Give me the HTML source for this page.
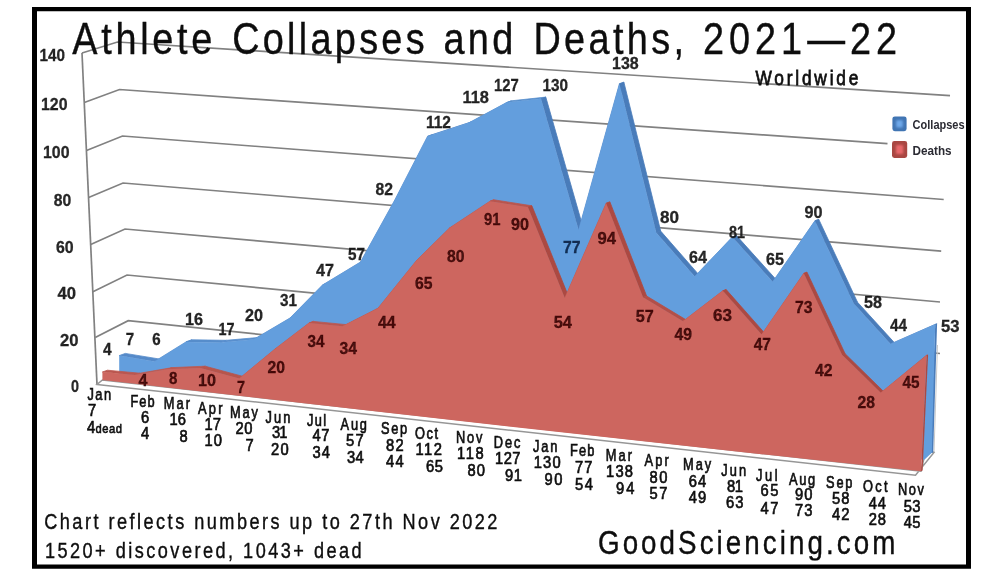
<!DOCTYPE html>
<html lang="en"><head><meta charset="utf-8"><title>Athlete Collapses and Deaths, 2021—22</title>
<style>html,body{margin:0;padding:0;background:#fff}body{width:1000px;height:575px;overflow:hidden;font-family:"Liberation Sans",sans-serif}svg{display:block}</style></head>
<body>
<svg width="1000" height="575" viewBox="0 0 1000 575">
<defs><filter id="b4" x="-50%" y="-50%" width="200%" height="200%"><feGaussianBlur stdDeviation="1.3"/></filter><filter id="b0" x="-2%" y="-10%" width="104%" height="120%"><feGaussianBlur stdDeviation="0.25"/></filter><filter id="b1" x="-5%" y="-5%" width="110%" height="110%"><feGaussianBlur stdDeviation="0.45"/></filter><filter id="b3" x="-5%" y="-5%" width="110%" height="110%"><feGaussianBlur stdDeviation="0.6"/></filter><filter id="b2" x="-20%" y="-20%" width="140%" height="140%"><feGaussianBlur stdDeviation="0.5"/></filter></defs>
<rect width="1000" height="575" fill="#fff"/>
<path d="M32,7H971V568.8H32Z M37,11.2V564.4H966V11.2Z" fill="#000" fill-rule="evenodd"/>
<g fill="none" stroke="#818181" stroke-width="1.7" filter="url(#b3)">
<path d="M82,53 L97,384.4"/>
<path d="M82,53 L117.5,42 L950,95.6"/>
<path d="M84.3,102.5 L119.5,89.5 L887.5,143.7"/>
<path d="M86.5,150.5 L122.5,136 L943.7,199.5"/>
<path d="M88.6,197.5 L123,183 L941.2,251.2"/>
<path d="M90.7,244.5 L125,229 L940,302"/>
<path d="M92.9,291.7 L127,275 L940,353.5"/>
<path d="M95.2,337.5 L128.2,320.7 L300,338.5"/>
<path d="M937.5,345 L934,452" stroke="#c9c9c9" stroke-width="1"/>
</g>
<path d="M97,384.4 L915.5,475.3 L934,452.5 L926,450 L921,471.2 L102.4,380 Z" fill="#fff" stroke="#969696" stroke-width="1.5" filter="url(#b1)"/>
<g filter="url(#b1)">
<polygon points="119.2,355.6 154.6,361.4 160.6,359.2 125.3,353.4" fill="#558ac9" stroke="#558ac9" stroke-width="0.8" stroke-linejoin="round"/>
<polygon points="154.6,361.4 186.0,341.9 191.9,339.8 160.6,359.2" fill="#5a90cf" stroke="#5a90cf" stroke-width="0.8" stroke-linejoin="round"/>
<polygon points="186.0,341.9 220.5,342.4 226.3,340.3 191.9,339.8" fill="#578dcb" stroke="#578dcb" stroke-width="0.8" stroke-linejoin="round"/>
<polygon points="220.5,342.4 253.5,339.5 259.2,337.4 226.3,340.3" fill="#588ecd" stroke="#588ecd" stroke-width="0.8" stroke-linejoin="round"/>
<polygon points="253.5,339.5 290.0,318.0 295.6,316.0 259.2,337.4" fill="#5a90cf" stroke="#5a90cf" stroke-width="0.8" stroke-linejoin="round"/>
<polygon points="290.0,318.0 322.5,285.0 328.0,283.0 295.6,316.0" fill="#5a90cf" stroke="#5a90cf" stroke-width="0.8" stroke-linejoin="round"/>
<polygon points="322.5,285.0 360.5,262.0 365.9,260.1 328.0,283.0" fill="#5a90cf" stroke="#5a90cf" stroke-width="0.8" stroke-linejoin="round"/>
<polygon points="360.5,262.0 394.5,200.5 399.8,198.6 365.9,260.1" fill="#5a90cf" stroke="#5a90cf" stroke-width="0.8" stroke-linejoin="round"/>
<polygon points="394.5,200.5 427.5,136.4 432.7,134.5 399.8,198.6" fill="#5a90cf" stroke="#5a90cf" stroke-width="0.8" stroke-linejoin="round"/>
<polygon points="427.5,136.4 468.5,123.0 473.5,121.2 432.7,134.5" fill="#5a90cf" stroke="#5a90cf" stroke-width="0.8" stroke-linejoin="round"/>
<polygon points="468.5,123.0 506.5,102.6 511.4,100.8 473.5,121.2" fill="#5a90cf" stroke="#5a90cf" stroke-width="0.8" stroke-linejoin="round"/>
<polygon points="506.5,102.6 541.0,98.8 545.8,97.1 511.4,100.8" fill="#588fcd" stroke="#588fcd" stroke-width="0.8" stroke-linejoin="round"/>
<polygon points="541.0,98.8 578.6,230.0 583.3,228.3 545.8,97.1" fill="#4a7cba" stroke="#4a7cba" stroke-width="0.8" stroke-linejoin="round"/>
<polygon points="578.6,230.0 619.4,83.8 623.9,82.2 583.3,228.3" fill="#5a90cf" stroke="#5a90cf" stroke-width="0.8" stroke-linejoin="round"/>
<polygon points="619.4,83.8 656.3,232.7 660.7,231.1 623.9,82.2" fill="#4a7cba" stroke="#4a7cba" stroke-width="0.8" stroke-linejoin="round"/>
<polygon points="656.3,232.7 694.7,276.4 699.0,274.9 660.7,231.1" fill="#4a7cba" stroke="#4a7cba" stroke-width="0.8" stroke-linejoin="round"/>
<polygon points="694.7,276.4 732.3,237.1 736.5,235.6 699.0,274.9" fill="#5a90cf" stroke="#5a90cf" stroke-width="0.8" stroke-linejoin="round"/>
<polygon points="732.3,237.1 772.7,281.7 776.7,280.2 736.5,235.6" fill="#4a7cba" stroke="#4a7cba" stroke-width="0.8" stroke-linejoin="round"/>
<polygon points="772.7,281.7 814.9,220.8 818.8,219.4 776.7,280.2" fill="#5a90cf" stroke="#5a90cf" stroke-width="0.8" stroke-linejoin="round"/>
<polygon points="814.9,220.8 853.7,303.6 857.5,302.2 818.8,219.4" fill="#4a7cba" stroke="#4a7cba" stroke-width="0.8" stroke-linejoin="round"/>
<polygon points="853.7,303.6 890.6,343.9 894.3,342.6 857.5,302.2" fill="#4a7cba" stroke="#4a7cba" stroke-width="0.8" stroke-linejoin="round"/>
<polygon points="890.6,343.9 935.2,324.4 936.3,324.0 894.3,342.6" fill="#5a90cf" stroke="#5a90cf" stroke-width="0.8" stroke-linejoin="round"/>
<polygon points="935.2,324.4 937.1,323.1 933.2,452.6 930.0,453.5" fill="#4a7cba"/>
<polygon points="119.2,379.9 119.2,355.6 154.6,361.4 186.0,341.9 220.5,342.4 253.5,339.5 290.0,318.0 322.5,285.0 360.5,262.0 394.5,200.5 427.5,136.4 468.5,123.0 506.5,102.6 541.0,98.8 578.6,230.0 619.4,83.8 656.3,232.7 694.7,276.4 732.3,237.1 772.7,281.7 814.9,220.8 853.7,303.6 890.6,343.9 935.2,324.4 931.8,452.8 924.6,459.6 921.5,459.6" fill="#649edd"/>
</g>
<g filter="url(#b1)">
<polygon points="102.4,372.0 135.0,375.0 139.9,373.2 107.4,370.2" fill="#bb574f" stroke="#bb574f" stroke-width="0.8" stroke-linejoin="round"/>
<polygon points="135.0,375.0 167.5,369.3 172.3,367.6 139.9,373.2" fill="#bf5a52" stroke="#bf5a52" stroke-width="0.8" stroke-linejoin="round"/>
<polygon points="167.5,369.3 200.5,367.9 205.2,366.2 172.3,367.6" fill="#bd5951" stroke="#bd5951" stroke-width="0.8" stroke-linejoin="round"/>
<polygon points="200.5,367.9 239.4,378.4 244.0,376.7 205.2,366.2" fill="#b8544c" stroke="#b8544c" stroke-width="0.8" stroke-linejoin="round"/>
<polygon points="239.4,378.4 275.0,349.0 279.5,347.4 244.0,376.7" fill="#c05b53" stroke="#c05b53" stroke-width="0.8" stroke-linejoin="round"/>
<polygon points="275.0,349.0 309.0,323.0 313.4,321.4 279.5,347.4" fill="#c05b53" stroke="#c05b53" stroke-width="0.8" stroke-linejoin="round"/>
<polygon points="309.0,323.0 342.5,326.3 346.8,324.7 313.4,321.4" fill="#bb574f" stroke="#bb574f" stroke-width="0.8" stroke-linejoin="round"/>
<polygon points="342.5,326.3 378.0,308.2 382.2,306.7 346.8,324.7" fill="#c05b53" stroke="#c05b53" stroke-width="0.8" stroke-linejoin="round"/>
<polygon points="378.0,308.2 416.5,260.5 420.6,259.0 382.2,306.7" fill="#c05b53" stroke="#c05b53" stroke-width="0.8" stroke-linejoin="round"/>
<polygon points="416.5,260.5 449.5,228.0 453.6,226.5 420.6,259.0" fill="#c05b53" stroke="#c05b53" stroke-width="0.8" stroke-linejoin="round"/>
<polygon points="449.5,228.0 490.0,201.2 494.0,199.8 453.6,226.5" fill="#c05b53" stroke="#c05b53" stroke-width="0.8" stroke-linejoin="round"/>
<polygon points="490.0,201.2 528.0,207.2 531.9,205.8 494.0,199.8" fill="#ba564e" stroke="#ba564e" stroke-width="0.8" stroke-linejoin="round"/>
<polygon points="528.0,207.2 564.8,298.0 568.6,296.6 531.9,205.8" fill="#ac4a42" stroke="#ac4a42" stroke-width="0.8" stroke-linejoin="round"/>
<polygon points="564.8,298.0 606.2,203.2 609.9,201.9 568.6,296.6" fill="#c05b53" stroke="#c05b53" stroke-width="0.8" stroke-linejoin="round"/>
<polygon points="606.2,203.2 643.0,297.3 646.6,296.0 609.9,201.9" fill="#ac4a42" stroke="#ac4a42" stroke-width="0.8" stroke-linejoin="round"/>
<polygon points="643.0,297.3 683.0,321.3 686.5,320.1 646.6,296.0" fill="#b35048" stroke="#b35048" stroke-width="0.8" stroke-linejoin="round"/>
<polygon points="683.0,321.3 722.8,290.8 726.2,289.6 686.5,320.1" fill="#c05b53" stroke="#c05b53" stroke-width="0.8" stroke-linejoin="round"/>
<polygon points="722.8,290.8 761.6,334.6 764.9,333.4 726.2,289.6" fill="#ac4a42" stroke="#ac4a42" stroke-width="0.8" stroke-linejoin="round"/>
<polygon points="761.6,334.6 803.8,273.3 807.0,272.2 764.9,333.4" fill="#c05b53" stroke="#c05b53" stroke-width="0.8" stroke-linejoin="round"/>
<polygon points="803.8,273.3 842.0,354.8 845.1,353.7 807.0,272.2" fill="#ac4a42" stroke="#ac4a42" stroke-width="0.8" stroke-linejoin="round"/>
<polygon points="842.0,354.8 880.8,392.8 883.8,391.7 845.1,353.7" fill="#ac4a42" stroke="#ac4a42" stroke-width="0.8" stroke-linejoin="round"/>
<polygon points="880.8,392.8 926.6,355.2 927.5,354.9 883.8,391.7" fill="#c05b53" stroke="#c05b53" stroke-width="0.8" stroke-linejoin="round"/>
<polygon points="926.6,355.2 928.1,354.8 922.6,470.4 921.0,471.2" fill="#ac4a42"/>
<polygon points="102.4,380.0 102.4,372.0 135.0,375.0 167.5,369.3 200.5,367.9 239.4,378.4 275.0,349.0 309.0,323.0 342.5,326.3 378.0,308.2 416.5,260.5 449.5,228.0 490.0,201.2 528.0,207.2 564.8,298.0 606.2,203.2 643.0,297.3 683.0,321.3 722.8,290.8 761.6,334.6 803.8,273.3 842.0,354.8 880.8,392.8 926.6,355.2 921.0,471.2 716.0,449.3 511.0,426.7 306.0,403.6" fill="#cd665e"/>
</g>
<g font-family="'Liberation Sans', sans-serif" filter="url(#b2)">
<text x="39.5" y="61.0" font-size="16.6" font-weight="bold" fill="#141414" fill-opacity="0.92" stroke="#141414" stroke-width="0.3" stroke-opacity="0.92" textLength="25.5" lengthAdjust="spacingAndGlyphs">140</text>
<text x="41.0" y="109.5" font-size="16.6" font-weight="bold" fill="#141414" fill-opacity="0.92" stroke="#141414" stroke-width="0.3" stroke-opacity="0.92" textLength="26.5" lengthAdjust="spacingAndGlyphs">120</text>
<text x="43.0" y="158.0" font-size="16.6" font-weight="bold" fill="#141414" fill-opacity="0.92" stroke="#141414" stroke-width="0.3" stroke-opacity="0.92" textLength="26.5" lengthAdjust="spacingAndGlyphs">100</text>
<text x="53.7" y="205.5" font-size="16.6" font-weight="bold" fill="#141414" fill-opacity="0.92" stroke="#141414" stroke-width="0.3" stroke-opacity="0.92" textLength="17.5" lengthAdjust="spacingAndGlyphs">80</text>
<text x="56.0" y="252.5" font-size="16.6" font-weight="bold" fill="#141414" fill-opacity="0.92" stroke="#141414" stroke-width="0.3" stroke-opacity="0.92" textLength="17.7" lengthAdjust="spacingAndGlyphs">60</text>
<text x="57.5" y="299.0" font-size="16.6" font-weight="bold" fill="#141414" fill-opacity="0.92" stroke="#141414" stroke-width="0.3" stroke-opacity="0.92" textLength="18.5" lengthAdjust="spacingAndGlyphs">40</text>
<text x="60.0" y="346.0" font-size="16.6" font-weight="bold" fill="#141414" fill-opacity="0.92" stroke="#141414" stroke-width="0.3" stroke-opacity="0.92" textLength="18.5" lengthAdjust="spacingAndGlyphs">20</text>
<text x="71.0" y="392.0" font-size="16.6" font-weight="bold" fill="#141414" fill-opacity="0.92" stroke="#141414" stroke-width="0.3" stroke-opacity="0.92" textLength="8.0" lengthAdjust="spacingAndGlyphs">0</text>
<text x="103.0" y="355.0" font-size="16.2" font-weight="bold" fill="#141414" fill-opacity="0.92" stroke="#141414" stroke-width="0.3" stroke-opacity="0.92" textLength="8.6" lengthAdjust="spacingAndGlyphs">4</text>
<text x="125.8" y="344.8" font-size="16.2" font-weight="bold" fill="#141414" fill-opacity="0.92" stroke="#141414" stroke-width="0.3" stroke-opacity="0.92" textLength="8.4" lengthAdjust="spacingAndGlyphs">7</text>
<text x="152.2" y="344.8" font-size="16.2" font-weight="bold" fill="#141414" fill-opacity="0.92" stroke="#141414" stroke-width="0.3" stroke-opacity="0.92" textLength="8.4" lengthAdjust="spacingAndGlyphs">6</text>
<text x="185.0" y="325.0" font-size="16.2" font-weight="bold" fill="#141414" fill-opacity="0.92" stroke="#141414" stroke-width="0.3" stroke-opacity="0.92" textLength="18.0" lengthAdjust="spacingAndGlyphs">16</text>
<text x="218.4" y="334.6" font-size="16.2" font-weight="bold" fill="#141414" fill-opacity="0.92" stroke="#141414" stroke-width="0.3" stroke-opacity="0.92" textLength="16.0" lengthAdjust="spacingAndGlyphs">17</text>
<text x="245.0" y="320.5" font-size="16.2" font-weight="bold" fill="#141414" fill-opacity="0.92" stroke="#141414" stroke-width="0.3" stroke-opacity="0.92" textLength="18.0" lengthAdjust="spacingAndGlyphs">20</text>
<text x="280.0" y="306.0" font-size="16.2" font-weight="bold" fill="#141414" fill-opacity="0.92" stroke="#141414" stroke-width="0.3" stroke-opacity="0.92" textLength="17.0" lengthAdjust="spacingAndGlyphs">31</text>
<text x="316.0" y="275.5" font-size="16.2" font-weight="bold" fill="#141414" fill-opacity="0.92" stroke="#141414" stroke-width="0.3" stroke-opacity="0.92" textLength="18.0" lengthAdjust="spacingAndGlyphs">47</text>
<text x="348.0" y="259.5" font-size="16.2" font-weight="bold" fill="#141414" fill-opacity="0.92" stroke="#141414" stroke-width="0.3" stroke-opacity="0.92" textLength="17.0" lengthAdjust="spacingAndGlyphs">57</text>
<text x="375.5" y="195.0" font-size="16.2" font-weight="bold" fill="#141414" fill-opacity="0.92" stroke="#141414" stroke-width="0.3" stroke-opacity="0.92" textLength="17.5" lengthAdjust="spacingAndGlyphs">82</text>
<text x="426.0" y="127.5" font-size="16.2" font-weight="bold" fill="#141414" fill-opacity="0.92" stroke="#141414" stroke-width="0.3" stroke-opacity="0.92" textLength="25.0" lengthAdjust="spacingAndGlyphs">112</text>
<text x="462.5" y="103.0" font-size="16.2" font-weight="bold" fill="#141414" fill-opacity="0.92" stroke="#141414" stroke-width="0.3" stroke-opacity="0.92" textLength="26.5" lengthAdjust="spacingAndGlyphs">118</text>
<text x="494.0" y="91.0" font-size="16.2" font-weight="bold" fill="#141414" fill-opacity="0.92" stroke="#141414" stroke-width="0.3" stroke-opacity="0.92" textLength="24.7" lengthAdjust="spacingAndGlyphs">127</text>
<text x="542.5" y="90.5" font-size="16.2" font-weight="bold" fill="#141414" fill-opacity="0.92" stroke="#141414" stroke-width="0.3" stroke-opacity="0.92" textLength="25.5" lengthAdjust="spacingAndGlyphs">130</text>
<text x="612.0" y="68.5" font-size="16.2" font-weight="bold" fill="#141414" fill-opacity="0.92" stroke="#141414" stroke-width="0.3" stroke-opacity="0.92" textLength="26.7" lengthAdjust="spacingAndGlyphs">138</text>
<text x="660.0" y="223.0" font-size="16.2" font-weight="bold" fill="#141414" fill-opacity="0.92" stroke="#141414" stroke-width="0.3" stroke-opacity="0.92" textLength="19.0" lengthAdjust="spacingAndGlyphs">80</text>
<text x="689.0" y="263.0" font-size="16.2" font-weight="bold" fill="#141414" fill-opacity="0.92" stroke="#141414" stroke-width="0.3" stroke-opacity="0.92" textLength="18.0" lengthAdjust="spacingAndGlyphs">64</text>
<text x="729.0" y="237.5" font-size="16.2" font-weight="bold" fill="#141414" fill-opacity="0.92" stroke="#141414" stroke-width="0.3" stroke-opacity="0.92" textLength="16.0" lengthAdjust="spacingAndGlyphs">81</text>
<text x="766.0" y="265.0" font-size="16.2" font-weight="bold" fill="#141414" fill-opacity="0.92" stroke="#141414" stroke-width="0.3" stroke-opacity="0.92" textLength="18.0" lengthAdjust="spacingAndGlyphs">65</text>
<text x="804.5" y="217.5" font-size="16.2" font-weight="bold" fill="#141414" fill-opacity="0.92" stroke="#141414" stroke-width="0.3" stroke-opacity="0.92" textLength="18.0" lengthAdjust="spacingAndGlyphs">90</text>
<text x="864.0" y="308.0" font-size="16.2" font-weight="bold" fill="#141414" fill-opacity="0.92" stroke="#141414" stroke-width="0.3" stroke-opacity="0.92" textLength="18.0" lengthAdjust="spacingAndGlyphs">58</text>
<text x="890.0" y="331.0" font-size="16.2" font-weight="bold" fill="#141414" fill-opacity="0.92" stroke="#141414" stroke-width="0.3" stroke-opacity="0.92" textLength="17.0" lengthAdjust="spacingAndGlyphs">44</text>
<text x="941.0" y="332.0" font-size="16.2" font-weight="bold" fill="#141414" fill-opacity="0.92" stroke="#141414" stroke-width="0.3" stroke-opacity="0.92" textLength="18.5" lengthAdjust="spacingAndGlyphs">53</text>
<text x="563.0" y="252.5" font-size="16.2" font-weight="bold" fill="#0a2346" fill-opacity="0.92" stroke="#0a2346" stroke-width="0.3" stroke-opacity="0.92" textLength="17.5" lengthAdjust="spacingAndGlyphs">77</text>
<text x="138.4" y="386.2" font-size="16.2" font-weight="bold" fill="#3a0808" fill-opacity="0.92" stroke="#3a0808" stroke-width="0.3" stroke-opacity="0.92" textLength="9.0" lengthAdjust="spacingAndGlyphs">4</text>
<text x="169.0" y="384.4" font-size="16.2" font-weight="bold" fill="#3a0808" fill-opacity="0.92" stroke="#3a0808" stroke-width="0.3" stroke-opacity="0.92" textLength="8.4" lengthAdjust="spacingAndGlyphs">8</text>
<text x="198.0" y="386.0" font-size="16.2" font-weight="bold" fill="#3a0808" fill-opacity="0.92" stroke="#3a0808" stroke-width="0.3" stroke-opacity="0.92" textLength="18.0" lengthAdjust="spacingAndGlyphs">10</text>
<text x="237.0" y="393.0" font-size="16.2" font-weight="bold" fill="#3a0808" fill-opacity="0.92" stroke="#3a0808" stroke-width="0.3" stroke-opacity="0.92" textLength="8.0" lengthAdjust="spacingAndGlyphs">7</text>
<text x="267.5" y="373.0" font-size="16.2" font-weight="bold" fill="#3a0808" fill-opacity="0.92" stroke="#3a0808" stroke-width="0.3" stroke-opacity="0.92" textLength="17.5" lengthAdjust="spacingAndGlyphs">20</text>
<text x="307.5" y="346.7" font-size="16.2" font-weight="bold" fill="#3a0808" fill-opacity="0.92" stroke="#3a0808" stroke-width="0.3" stroke-opacity="0.92" textLength="17.0" lengthAdjust="spacingAndGlyphs">34</text>
<text x="339.5" y="353.7" font-size="16.2" font-weight="bold" fill="#3a0808" fill-opacity="0.92" stroke="#3a0808" stroke-width="0.3" stroke-opacity="0.92" textLength="17.5" lengthAdjust="spacingAndGlyphs">34</text>
<text x="378.0" y="327.5" font-size="16.2" font-weight="bold" fill="#3a0808" fill-opacity="0.92" stroke="#3a0808" stroke-width="0.3" stroke-opacity="0.92" textLength="17.7" lengthAdjust="spacingAndGlyphs">44</text>
<text x="415.0" y="289.0" font-size="16.2" font-weight="bold" fill="#3a0808" fill-opacity="0.92" stroke="#3a0808" stroke-width="0.3" stroke-opacity="0.92" textLength="17.5" lengthAdjust="spacingAndGlyphs">65</text>
<text x="447.0" y="262.0" font-size="16.2" font-weight="bold" fill="#3a0808" fill-opacity="0.92" stroke="#3a0808" stroke-width="0.3" stroke-opacity="0.92" textLength="17.5" lengthAdjust="spacingAndGlyphs">80</text>
<text x="484.0" y="225.0" font-size="16.2" font-weight="bold" fill="#3a0808" fill-opacity="0.92" stroke="#3a0808" stroke-width="0.3" stroke-opacity="0.92" textLength="16.5" lengthAdjust="spacingAndGlyphs">91</text>
<text x="511.0" y="230.0" font-size="16.2" font-weight="bold" fill="#3a0808" fill-opacity="0.92" stroke="#3a0808" stroke-width="0.3" stroke-opacity="0.92" textLength="18.0" lengthAdjust="spacingAndGlyphs">90</text>
<text x="553.7" y="327.5" font-size="16.2" font-weight="bold" fill="#3a0808" fill-opacity="0.92" stroke="#3a0808" stroke-width="0.3" stroke-opacity="0.92" textLength="18.3" lengthAdjust="spacingAndGlyphs">54</text>
<text x="597.5" y="244.0" font-size="16.2" font-weight="bold" fill="#3a0808" fill-opacity="0.92" stroke="#3a0808" stroke-width="0.3" stroke-opacity="0.92" textLength="18.5" lengthAdjust="spacingAndGlyphs">94</text>
<text x="635.7" y="322.3" font-size="16.2" font-weight="bold" fill="#3a0808" fill-opacity="0.92" stroke="#3a0808" stroke-width="0.3" stroke-opacity="0.92" textLength="18.0" lengthAdjust="spacingAndGlyphs">57</text>
<text x="674.5" y="339.5" font-size="16.2" font-weight="bold" fill="#3a0808" fill-opacity="0.92" stroke="#3a0808" stroke-width="0.3" stroke-opacity="0.92" textLength="17.5" lengthAdjust="spacingAndGlyphs">49</text>
<text x="713.0" y="320.5" font-size="16.2" font-weight="bold" fill="#3a0808" fill-opacity="0.92" stroke="#3a0808" stroke-width="0.3" stroke-opacity="0.92" textLength="19.0" lengthAdjust="spacingAndGlyphs">63</text>
<text x="753.7" y="349.5" font-size="16.2" font-weight="bold" fill="#3a0808" fill-opacity="0.92" stroke="#3a0808" stroke-width="0.3" stroke-opacity="0.92" textLength="17.3" lengthAdjust="spacingAndGlyphs">47</text>
<text x="795.0" y="313.0" font-size="16.2" font-weight="bold" fill="#3a0808" fill-opacity="0.92" stroke="#3a0808" stroke-width="0.3" stroke-opacity="0.92" textLength="17.5" lengthAdjust="spacingAndGlyphs">73</text>
<text x="815.0" y="375.7" font-size="16.2" font-weight="bold" fill="#3a0808" fill-opacity="0.92" stroke="#3a0808" stroke-width="0.3" stroke-opacity="0.92" textLength="17.5" lengthAdjust="spacingAndGlyphs">42</text>
<text x="857.5" y="407.5" font-size="16.2" font-weight="bold" fill="#3a0808" fill-opacity="0.92" stroke="#3a0808" stroke-width="0.3" stroke-opacity="0.92" textLength="17.5" lengthAdjust="spacingAndGlyphs">28</text>
<text x="902.5" y="387.5" font-size="16.2" font-weight="bold" fill="#3a0808" fill-opacity="0.92" stroke="#3a0808" stroke-width="0.3" stroke-opacity="0.92" textLength="17.0" lengthAdjust="spacingAndGlyphs">45</text>
</g>
<g filter="url(#b1)">
<rect x="892.4" y="116.4" width="14.2" height="14.8" rx="2.4" fill="#4174b3"/><rect x="896.2" y="120.2" width="6.6" height="7.2" rx="1" fill="#6ea8ea" filter="url(#b4)"/>
<rect x="892" y="141" width="15.2" height="17" rx="2.4" fill="#a94642"/><rect x="896" y="145" width="7.2" height="9" rx="1" fill="#e8686a" filter="url(#b4)"/>
<g font-family="'Liberation Sans', sans-serif" font-weight="bold" font-size="12.5" fill="#2b2b33">
<text x="912.6" y="128.5" textLength="52" lengthAdjust="spacingAndGlyphs">Collapses</text>
<text x="912.6" y="154.8" textLength="39" lengthAdjust="spacingAndGlyphs">Deaths</text>
</g></g>
<g font-family="'Liberation Sans', sans-serif" fill="#0a0a0a" stroke="#0a0a0a" stroke-width="0.35" filter="url(#b0)">
<text transform="translate(72.2,54.2) scale(0.86,1)" font-size="44" textLength="163.0" lengthAdjust="spacing">Athlete</text>
<text transform="translate(232.2,54.2) scale(0.86,1)" font-size="44" textLength="223.7" lengthAdjust="spacing">Collapses</text>
<text transform="translate(443.6,54.2) scale(0.86,1)" font-size="44" textLength="80.9" lengthAdjust="spacing">and</text>
<text transform="translate(533.4,54.2) scale(0.86,1)" font-size="44" textLength="175.1" lengthAdjust="spacing">Deaths,</text>
<text transform="translate(703.0,54.2) scale(0.86,1)" font-size="44" textLength="225.6" lengthAdjust="spacing">2021—22</text>
<text transform="translate(755.5,84.8) scale(0.84,1)" font-size="20.6" textLength="122.4" lengthAdjust="spacing" stroke-width="0.75">Worldwide</text>
<text transform="translate(44.2,529.1) scale(0.84,1)" font-size="21.6" textLength="539.6" lengthAdjust="spacing">Chart reflects numbers up to 27th Nov 2022</text>
<text transform="translate(44.9,557.8) scale(0.84,1)" font-size="21.6" textLength="377.1" lengthAdjust="spacing">1520+ discovered, 1043+ dead</text>
<text transform="translate(598.0,553.6) scale(0.86,1)" font-size="32.3" textLength="345.7" lengthAdjust="spacing">GoodSciencing.com</text>
</g>
<g font-family="'Liberation Sans', sans-serif" fill="#0a0a0a" stroke="#0a0a0a" stroke-width="0.62" filter="url(#b0)">
<text transform="translate(87.5,400.0) scale(0.8,1)" font-size="16" textLength="29.4" lengthAdjust="spacing">Jan</text>
<text transform="translate(88.0,416.0) scale(0.92,1)" font-size="16" textLength="7.6" lengthAdjust="spacing">7</text>
<text transform="translate(87.0,432.5) scale(0.92,1)" font-size="16" textLength="8.2" lengthAdjust="spacing">4</text>
<text transform="translate(130.5,406.7) scale(0.8,1)" font-size="16" textLength="30.0" lengthAdjust="spacing">Feb</text>
<text transform="translate(141.0,423.0) scale(0.92,1)" font-size="16" textLength="8.4" lengthAdjust="spacing">6</text>
<text transform="translate(141.0,438.7) scale(0.92,1)" font-size="16" textLength="8.7" lengthAdjust="spacing">4</text>
<text transform="translate(163.7,408.7) scale(0.8,1)" font-size="16" textLength="32.9" lengthAdjust="spacing">Mar</text>
<text transform="translate(169.5,425.0) scale(0.92,1)" font-size="16" textLength="17.9" lengthAdjust="spacing">16</text>
<text transform="translate(179.5,442.0) scale(0.92,1)" font-size="16" textLength="9.2" lengthAdjust="spacing">8</text>
<text transform="translate(198.0,413.7) scale(0.8,1)" font-size="16" textLength="30.6" lengthAdjust="spacing">Apr</text>
<text transform="translate(204.5,430.0) scale(0.92,1)" font-size="16" textLength="17.9" lengthAdjust="spacing">17</text>
<text transform="translate(204.5,446.0) scale(0.92,1)" font-size="16" textLength="19.0" lengthAdjust="spacing">10</text>
<text transform="translate(230.0,418.0) scale(0.8,1)" font-size="16" textLength="35.0" lengthAdjust="spacing">May</text>
<text transform="translate(235.5,434.0) scale(0.92,1)" font-size="16" textLength="18.5" lengthAdjust="spacing">20</text>
<text transform="translate(245.5,450.7) scale(0.92,1)" font-size="16" textLength="7.6" lengthAdjust="spacing">7</text>
<text transform="translate(265.5,422.5) scale(0.8,1)" font-size="16" textLength="31.2" lengthAdjust="spacing">Jun</text>
<text transform="translate(272.0,437.5) scale(0.92,1)" font-size="16" textLength="16.8" lengthAdjust="spacing">31</text>
<text transform="translate(271.0,455.0) scale(0.92,1)" font-size="16" textLength="19.2" lengthAdjust="spacing">20</text>
<text transform="translate(307.0,425.7) scale(0.8,1)" font-size="16" textLength="23.8" lengthAdjust="spacing">Jul</text>
<text transform="translate(312.5,441.0) scale(0.92,1)" font-size="16" textLength="18.5" lengthAdjust="spacing">47</text>
<text transform="translate(312.5,458.0) scale(0.92,1)" font-size="16" textLength="19.0" lengthAdjust="spacing">34</text>
<text transform="translate(340.5,430.0) scale(0.8,1)" font-size="16" textLength="33.1" lengthAdjust="spacing">Aug</text>
<text transform="translate(346.0,446.0) scale(0.92,1)" font-size="16" textLength="19.2" lengthAdjust="spacing">57</text>
<text transform="translate(347.0,462.5) scale(0.92,1)" font-size="16" textLength="18.2" lengthAdjust="spacing">34</text>
<text transform="translate(381.0,434.0) scale(0.8,1)" font-size="16" textLength="32.5" lengthAdjust="spacing">Sep</text>
<text transform="translate(386.0,450.5) scale(0.92,1)" font-size="16" textLength="19.2" lengthAdjust="spacing">82</text>
<text transform="translate(386.0,466.7) scale(0.92,1)" font-size="16" textLength="19.2" lengthAdjust="spacing">44</text>
<text transform="translate(415.0,438.7) scale(0.8,1)" font-size="16" textLength="28.8" lengthAdjust="spacing">Oct</text>
<text transform="translate(415.5,455.0) scale(0.92,1)" font-size="16" textLength="28.8" lengthAdjust="spacing">112</text>
<text transform="translate(426.0,472.0) scale(0.92,1)" font-size="16" textLength="18.5" lengthAdjust="spacing">65</text>
<text transform="translate(456.0,443.0) scale(0.8,1)" font-size="16" textLength="33.1" lengthAdjust="spacing">Nov</text>
<text transform="translate(457.0,458.7) scale(0.92,1)" font-size="16" textLength="29.0" lengthAdjust="spacing">118</text>
<text transform="translate(467.5,475.7) scale(0.92,1)" font-size="16" textLength="19.0" lengthAdjust="spacing">80</text>
<text transform="translate(493.7,447.5) scale(0.8,1)" font-size="16" textLength="33.5" lengthAdjust="spacing">Dec</text>
<text transform="translate(495.0,463.7) scale(0.92,1)" font-size="16" textLength="27.7" lengthAdjust="spacing">127</text>
<text transform="translate(505.0,481.0) scale(0.92,1)" font-size="16" textLength="18.5" lengthAdjust="spacing">91</text>
<text transform="translate(533.0,451.7) scale(0.8,1)" font-size="16" textLength="30.6" lengthAdjust="spacing">Jan</text>
<text transform="translate(533.7,468.0) scale(0.92,1)" font-size="16" textLength="29.3" lengthAdjust="spacing">130</text>
<text transform="translate(544.5,485.0) scale(0.92,1)" font-size="16" textLength="19.6" lengthAdjust="spacing">90</text>
<text transform="translate(570.0,456.0) scale(0.8,1)" font-size="16" textLength="30.6" lengthAdjust="spacing">Feb</text>
<text transform="translate(575.0,472.5) scale(0.92,1)" font-size="16" textLength="19.0" lengthAdjust="spacing">77</text>
<text transform="translate(575.0,490.0) scale(0.92,1)" font-size="16" textLength="19.6" lengthAdjust="spacing">54</text>
<text transform="translate(605.8,460.9) scale(0.8,1)" font-size="16" textLength="32.8" lengthAdjust="spacing">Mar</text>
<text transform="translate(606.0,476.8) scale(0.92,1)" font-size="16" textLength="29.3" lengthAdjust="spacing">138</text>
<text transform="translate(616.0,493.7) scale(0.92,1)" font-size="16" textLength="20.1" lengthAdjust="spacing">94</text>
<text transform="translate(644.5,465.8) scale(0.8,1)" font-size="16" textLength="30.3" lengthAdjust="spacing">Apr</text>
<text transform="translate(649.5,482.8) scale(0.92,1)" font-size="16" textLength="19.6" lengthAdjust="spacing">80</text>
<text transform="translate(649.5,498.9) scale(0.92,1)" font-size="16" textLength="19.6" lengthAdjust="spacing">57</text>
<text transform="translate(683.0,470.0) scale(0.8,1)" font-size="16" textLength="35.3" lengthAdjust="spacing">May</text>
<text transform="translate(688.7,487.2) scale(0.92,1)" font-size="16" textLength="19.0" lengthAdjust="spacing">64</text>
<text transform="translate(688.7,503.2) scale(0.92,1)" font-size="16" textLength="19.0" lengthAdjust="spacing">49</text>
<text transform="translate(721.2,475.7) scale(0.8,1)" font-size="16" textLength="31.0" lengthAdjust="spacing">Jun</text>
<text transform="translate(727.0,491.5) scale(0.92,1)" font-size="16" textLength="17.4" lengthAdjust="spacing">81</text>
<text transform="translate(726.0,508.0) scale(0.92,1)" font-size="16" textLength="19.0" lengthAdjust="spacing">63</text>
<text transform="translate(756.0,481.0) scale(0.8,1)" font-size="16" textLength="26.9" lengthAdjust="spacing">Jul</text>
<text transform="translate(760.5,496.0) scale(0.92,1)" font-size="16" textLength="19.6" lengthAdjust="spacing">65</text>
<text transform="translate(760.5,513.7) scale(0.92,1)" font-size="16" textLength="19.6" lengthAdjust="spacing">47</text>
<text transform="translate(789.0,484.5) scale(0.8,1)" font-size="16" textLength="32.5" lengthAdjust="spacing">Aug</text>
<text transform="translate(795.0,500.0) scale(0.92,1)" font-size="16" textLength="19.0" lengthAdjust="spacing">90</text>
<text transform="translate(795.0,516.0) scale(0.92,1)" font-size="16" textLength="19.0" lengthAdjust="spacing">73</text>
<text transform="translate(826.0,488.0) scale(0.8,1)" font-size="16" textLength="33.1" lengthAdjust="spacing">Sep</text>
<text transform="translate(832.0,503.7) scale(0.92,1)" font-size="16" textLength="19.0" lengthAdjust="spacing">58</text>
<text transform="translate(832.0,519.5) scale(0.92,1)" font-size="16" textLength="19.0" lengthAdjust="spacing">42</text>
<text transform="translate(863.0,492.0) scale(0.8,1)" font-size="16" textLength="30.6" lengthAdjust="spacing">Oct</text>
<text transform="translate(868.7,508.7) scale(0.92,1)" font-size="16" textLength="18.8" lengthAdjust="spacing">44</text>
<text transform="translate(868.7,525.0) scale(0.92,1)" font-size="16" textLength="18.8" lengthAdjust="spacing">28</text>
<text transform="translate(898.0,495.0) scale(0.8,1)" font-size="16" textLength="32.5" lengthAdjust="spacing">Nov</text>
<text transform="translate(903.7,512.0) scale(0.92,1)" font-size="16" textLength="18.3" lengthAdjust="spacing">53</text>
<text transform="translate(903.7,528.0) scale(0.92,1)" font-size="16" textLength="18.3" lengthAdjust="spacing">45</text>
<text transform="translate(95.5,432.5) scale(0.82,1)" font-size="13.6" textLength="32.3" lengthAdjust="spacing">dead</text>
</g>
</svg>
</body></html>
